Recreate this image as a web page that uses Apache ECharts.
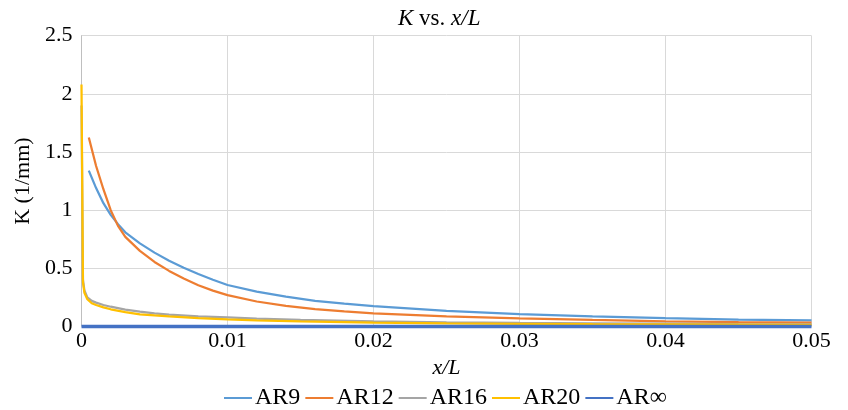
<!DOCTYPE html>
<html>
<head>
<meta charset="utf-8">
<script src="https://cdn.jsdelivr.net/npm/echarts@6/dist/echarts.min.js"></script>
<style>
html,body{margin:0;padding:0;background:#fff;}
#chart{width:848px;height:410px;}
</style>
</head>
<body>
<div id="chart"></div>
<script>
// ---- data ----
const seriesNames = ['AR9', 'AR12', 'AR16', 'AR20', 'AR\u221E'];

const xAR9 = [0.0005, 0.001, 0.0015, 0.002, 0.0025, 0.003, 0.004, 0.005, 0.006, 0.007, 0.008, 0.009, 0.01, 0.012, 0.014, 0.016, 0.018, 0.02, 0.025, 0.03, 0.035, 0.04, 0.045, 0.05];
const yAR9 = [1.34, 1.19, 1.06, 0.96, 0.88, 0.81, 0.715, 0.635, 0.565, 0.505, 0.452, 0.402, 0.357, 0.30, 0.256, 0.221, 0.196, 0.176, 0.135, 0.107, 0.088, 0.072, 0.06, 0.052];

const xAR12 = [0.0005, 0.001, 0.0015, 0.002, 0.0025, 0.003, 0.004, 0.005, 0.006, 0.007, 0.008, 0.009, 0.01, 0.012, 0.014, 0.016, 0.018, 0.02, 0.025, 0.03, 0.035, 0.04, 0.045, 0.05];
const yAR12 = [1.625, 1.38, 1.18, 1.00, 0.865, 0.77, 0.65, 0.555, 0.478, 0.413, 0.355, 0.308, 0.27, 0.215, 0.178, 0.15, 0.129, 0.113, 0.087, 0.07, 0.056, 0.045, 0.038, 0.033];

const xAR16 = [0, 0.0001, 0.0002, 0.0004, 0.0007, 0.001, 0.0015, 0.002, 0.003, 0.004, 0.005, 0.006, 0.008, 0.01, 0.012, 0.015, 0.02, 0.025, 0.03, 0.035, 0.04, 0.045, 0.05];
const yAR16 = [1.9, 0.40, 0.31, 0.25, 0.22, 0.205, 0.185, 0.17, 0.145, 0.127, 0.113, 0.102, 0.088, 0.079, 0.068, 0.056, 0.043, 0.036, 0.031, 0.027, 0.024, 0.021, 0.019];

const xAR20 = [0, 0.0001, 0.0002, 0.0004, 0.0007, 0.001, 0.0015, 0.002, 0.003, 0.004, 0.005, 0.006, 0.008, 0.01, 0.012, 0.015, 0.02, 0.025, 0.03, 0.035, 0.04, 0.045, 0.05];
const yAR20 = [2.08, 0.38, 0.29, 0.235, 0.2, 0.185, 0.165, 0.148, 0.124, 0.105, 0.095, 0.086, 0.072, 0.062, 0.053, 0.044, 0.033, 0.027, 0.023, 0.02, 0.018, 0.016, 0.015];

const xARinf = [0, 0.01, 0.02, 0.03, 0.04, 0.05];
const yARinf = [0, 0, 0, 0, 0, 0];

const xTicks = [0, 0.01, 0.02, 0.03, 0.04, 0.05];
const yTicks = [0, 0.5, 1, 1.5, 2, 2.5];

// ---- chart ----
const pairs = (xs, ys) => xs.map((x, i) => [x, ys[i]]);
const colors = ['#5B9BD5', '#ED7D31', '#A5A5A5', '#FFC000', '#4472C4'];
const widths = [2.25, 2.25, 2.25, 2.25, 3.5];
const allData = [pairs(xAR9, yAR9), pairs(xAR12, yAR12), pairs(xAR16, yAR16), pairs(xAR20, yAR20), pairs(xARinf, yARinf)];
const FONT = '"Liberation Serif", "Times New Roman", serif';

const chart = echarts.init(document.getElementById('chart'), null, {renderer: 'canvas'});
chart.setOption({
  animation: false,
  backgroundColor: '#ffffff',
  title: {
    text: '{i|K} vs. {i|x/L}',
    left: 393,
    top: 2,
    textStyle: {
      fontFamily: FONT, fontSize: 23, fontWeight: 'normal', color: '#000',
      rich: { i: { fontFamily: FONT, fontSize: 23, fontStyle: 'italic', color: '#000' } }
    }
  },
  grid: { left: 81.5, right: 36.5, top: 35.7, bottom: 83.5, containLabel: false },
  legend: {
    data: seriesNames,
    left: 218,
    top: 381,
    itemWidth: 28,
    itemHeight: 14,
    itemGap: 4,
    itemStyle: { opacity: 0 },
    textStyle: { fontFamily: FONT, fontSize: 24, color: '#000', padding: [0, 0, 0, -2] }
  },
  xAxis: {
    type: 'value',
    min: xTicks[0], max: xTicks[xTicks.length - 1], interval: 0.01,
    name: 'x/L',
    nameLocation: 'middle',
    nameGap: 15,
    nameTextStyle: { fontFamily: FONT, fontSize: 22, fontStyle: 'italic', color: '#000', verticalAlign: 'top' },
    axisLine: { show: true, lineStyle: { color: '#D9D9D9', width: 1 } },
    axisTick: { show: false },
    splitLine: { show: true, lineStyle: { color: '#D9D9D9', width: 1 } },
    axisLabel: {
      fontFamily: FONT, fontSize: 22, color: '#000', margin: 4,
      formatter: v => { const t = xTicks.find(k => Math.abs(k - v) < 1e-9); return t === undefined ? '' : String(t); }
    }
  },
  yAxis: {
    type: 'value',
    min: yTicks[0], max: yTicks[yTicks.length - 1], interval: 0.5,
    name: 'K (1/mm)',
    nameLocation: 'middle',
    nameGap: 33,
    nameRotate: 90,
    nameTextStyle: { fontFamily: FONT, fontSize: 22, color: '#000' },
    axisLine: { show: true, lineStyle: { color: '#BFBFBF', width: 1 } },
    axisTick: { show: false },
    splitLine: { show: true, lineStyle: { color: '#D9D9D9', width: 1 } },
    axisLabel: {
      fontFamily: FONT, fontSize: 22, color: '#000', margin: 9,
      formatter: v => { const t = yTicks.find(k => Math.abs(k - v) < 1e-9); return t === undefined ? '' : String(t); }
    }
  },
  series: seriesNames.map((n, i) => ({
    name: n,
    type: 'line',
    data: allData[i],
    symbol: 'none',
    smooth: false,
    clip: false,
    color: colors[i],
    lineStyle: { color: colors[i], width: widths[i] },
    z: 2 + i
  }))
});
</script>
</body>
</html>
